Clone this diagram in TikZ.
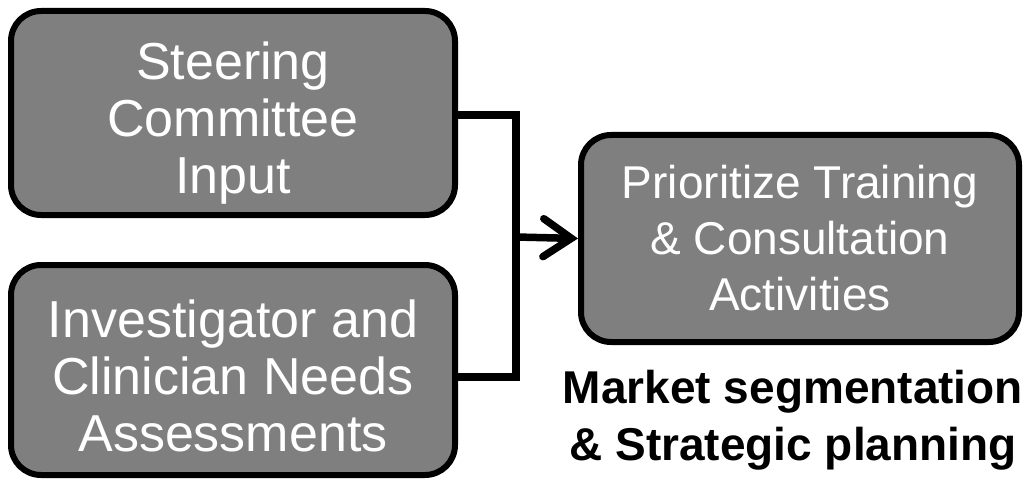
\documentclass[tikz,border=0pt]{standalone}
\usepackage{fontspec}
\setmainfont{Liberation Sans}
\usepackage{tikz}
\usetikzlibrary{arrows.meta}
\usetikzlibrary{positioning}
\definecolor{boxgray}{HTML}{7F7F7F}

\begin{document}
\begin{tikzpicture}[x=1pt, y=-1pt,
    box/.style={draw=black, fill=boxgray, line width=6pt, rounded corners=30pt,
      text=white, align=center, inner sep=0pt, font=\fontsize{52}{57}\selectfont},
    link/.style={draw=black, line width=7.5pt}]
      \useasboundingbox (0,0) rectangle (1036,484);

      \node[box, minimum width=444pt, minimum height=204pt] (steering) at (233,113)
        {\rule{0pt}{57pt}Steering\\Committee\\Input};
      \node[box, minimum width=444pt, minimum height=210pt] (needs) at (233,370)
        {\rule{0pt}{49pt}Investigator and\\Clinician Needs\\Assessments};
      \node[box, minimum width=438pt, minimum height=207pt,
        font=\fontsize{46}{56}\selectfont] (prioritize) at (800,238.5)
        {Prioritize Training\\\& Consultation\\Activities};

      \node[align=center, inner sep=0pt, font=\fontsize{46}{57}\selectfont\bfseries]
        (planning) at (793,420) {Market segmentation\\\& Strategic planning};

      \coordinate (join) at (516,237);
      \path[link] ([yshift=-2pt]steering.east) -| (join) |- ([yshift=-7pt]needs.east);
      \path[link, -{Straight Barb[length=28pt, width=38pt, line cap=round]}, line cap=round]
        (join) -- (prioritize.west);
\end{tikzpicture}
\end{document}
